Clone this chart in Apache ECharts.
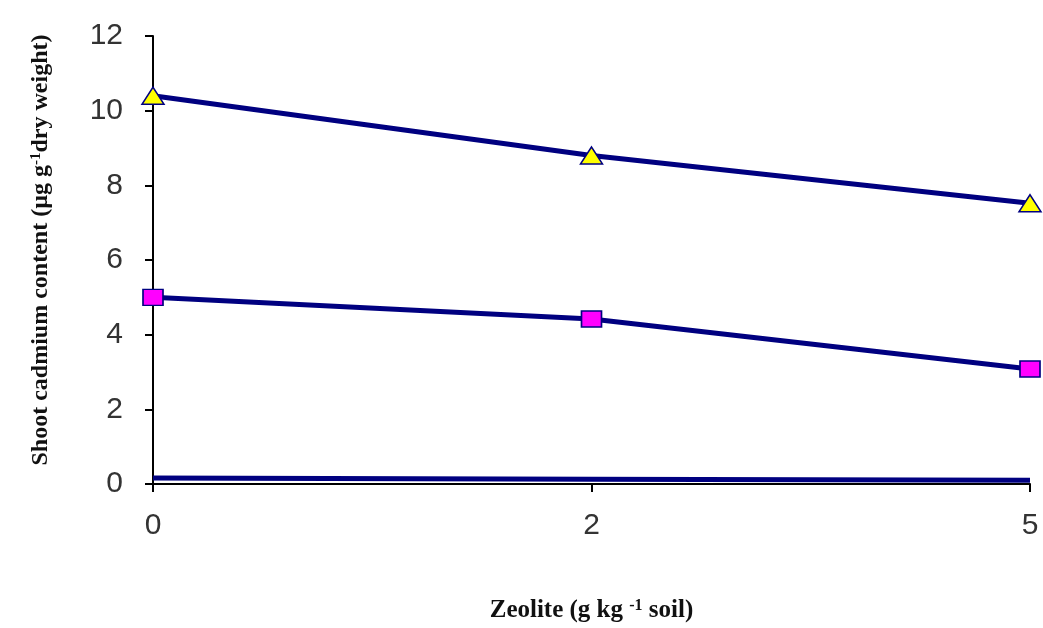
<!DOCTYPE html>
<html><head><meta charset="utf-8">
<script src="https://cdn.jsdelivr.net/npm/echarts@6/dist/echarts.min.js"></script>
<style>html,body{margin:0;padding:0;background:#fff}#c{width:1043px;height:628px}</style>
</head><body><div id="c"></div>
<script>
const categories = ['0', '2', '5'];
const triangleSeries = [10.4, 8.8, 7.52];
const squareSeries = [5.0, 4.42, 3.08];
const baseSeries = [0.16, 0.13, 0.1];
const yTicks = { min: 0, max: 12, interval: 2 };

const titleFont = { fontFamily: 'Liberation Serif', fontWeight: 'bold', color: '#111' };
const chart = echarts.init(document.getElementById('c'));
chart.setOption({
  animation: false,
  backgroundColor: '#fff',
  grid: { left: 153, right: 13, top: 36, bottom: 143 },
  xAxis: {
    type: 'category', data: categories, boundaryGap: false,
    name: '{t|Zeolite (g kg }{s|-1}{t| soil)}', nameLocation: 'middle', nameGap: 114,
    nameTextStyle: Object.assign({ fontSize: 25, rich: {
      t: Object.assign({ fontSize: 25 }, titleFont),
      s: Object.assign({ fontSize: 16, verticalAlign: 'top', padding: [0, 0, 9, 0] }, titleFont)
    } }, titleFont),
    axisLine: { lineStyle: { color: '#000', width: 2 } },
    axisTick: { show: true, alignWithLabel: true, length: 8, lineStyle: { color: '#000', width: 2 } },
    axisLabel: { fontFamily: 'Liberation Sans', fontSize: 30, color: '#333', margin: 27 },
    splitLine: { show: false }
  },
  yAxis: {
    type: 'value', min: yTicks.min, max: yTicks.max, interval: yTicks.interval,
    name: '{t|Shoot cadmium content (\u00B5g g}{s|-1}{t|dry weight)}', nameLocation: 'middle', nameGap: 100,
    nameTextStyle: Object.assign({ fontSize: 24, padding: [0, 0, 0, 20], rich: {
      t: Object.assign({ fontSize: 24 }, titleFont),
      s: Object.assign({ fontSize: 15, verticalAlign: 'top', padding: [0, 0, 9, 0] }, titleFont)
    } }, titleFont),
    axisLine: { show: true, lineStyle: { color: '#000', width: 2 } },
    axisTick: { show: true, length: 8, lineStyle: { color: '#000', width: 2 } },
    axisLabel: { fontFamily: 'Liberation Sans', fontSize: 30, color: '#333', margin: 30 },
    splitLine: { show: false }
  },
  series: [
    { type: 'line', data: baseSeries, symbol: 'none', lineStyle: { color: '#000080', width: 5 }, z: 3 },
    { type: 'line', data: squareSeries, symbol: 'rect', symbolSize: [20, 16],
      lineStyle: { color: '#000080', width: 5 },
      itemStyle: { color: '#ff00ff', borderColor: '#000080', borderWidth: 1.5 }, z: 4 },
    { type: 'line', data: triangleSeries, symbol: 'triangle', symbolSize: [22, 17],
      lineStyle: { color: '#000080', width: 5 },
      itemStyle: { color: '#ffff00', borderColor: '#000080', borderWidth: 1.5 }, z: 5 }
  ]
});
</script></body></html>
